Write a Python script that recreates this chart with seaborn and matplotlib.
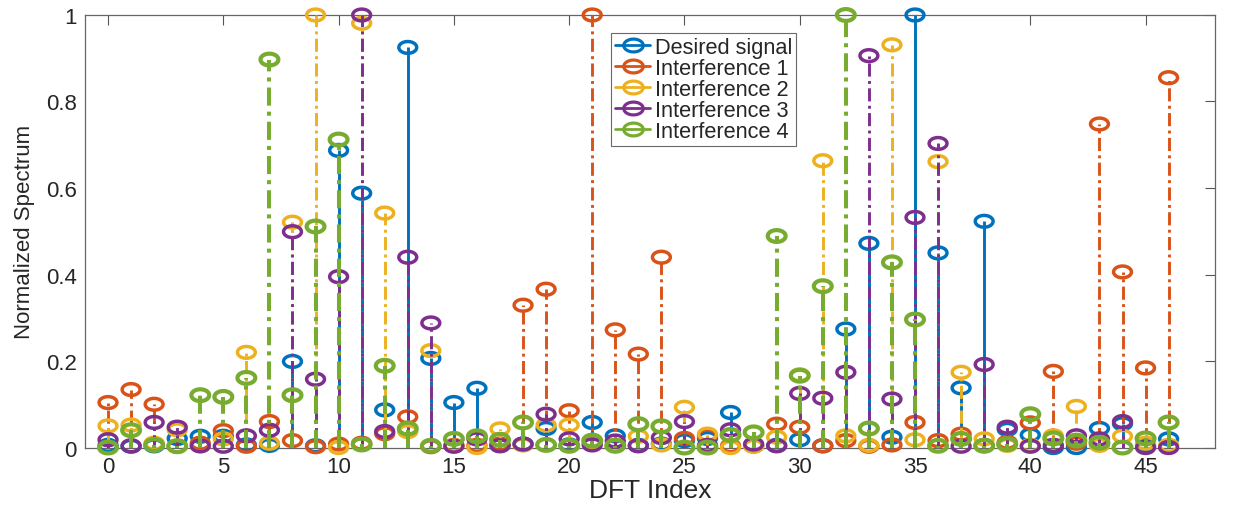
import numpy as np
import pandas as pd
import matplotlib
matplotlib.use("Agg")
import matplotlib.pyplot as plt
from matplotlib.path import Path
from matplotlib.lines import Line2D
import seaborn as sns

# Normalized DFT magnitude per bin for each source
dft_index = list(range(47))
desired = [0.005, 0.003, 0.004, 0.021, 0.026, 0.026, 0.006, 0.005, 0.199, 0.004,
           0.687, 0.588, 0.087, 0.925, 0.206, 0.104, 0.137, 0.005, 0.008, 0.044,
           0.006, 0.058, 0.027, 0.005, 0.008, 0.016, 0.021, 0.081, 0.004, 0.005,
           0.018, 0.004, 0.274, 0.472, 0.024, 1.000, 0.450, 0.138, 0.523, 0.042,
           0.029, 0.000, 0.000, 0.044, 0.055, 0.005, 0.020]
interf1 = [0.104, 0.134, 0.100, 0.003, 0.010, 0.039, 0.003, 0.060, 0.016, 0.002,
           0.008, 0.010, 0.032, 0.071, 0.002, 0.005, 0.005, 0.008, 0.329, 0.366,
           0.085, 1.000, 0.272, 0.216, 0.440, 0.021, 0.027, 0.004, 0.004, 0.054,
           0.047, 0.004, 0.016, 0.003, 0.006, 0.058, 0.016, 0.031, 0.005, 0.012,
           0.057, 0.176, 0.010, 0.748, 0.406, 0.184, 0.855]
interf2 = [0.050, 0.052, 0.010, 0.041, 0.004, 0.020, 0.220, 0.010, 0.521, 1.000,
           0.000, 0.981, 0.542, 0.037, 0.224, 0.004, 0.000, 0.043, 0.006, 0.052,
           0.052, 0.010, 0.005, 0.026, 0.006, 0.093, 0.031, 0.000, 0.003, 0.024,
           0.168, 0.663, 0.027, 0.005, 0.931, 0.018, 0.661, 0.174, 0.020, 0.005,
           0.005, 0.027, 0.095, 0.005, 0.026, 0.010, 0.005]
interf3 = [0.018, 0.004, 0.058, 0.047, 0.004, 0.003, 0.027, 0.040, 0.499, 0.158,
           0.395, 1.000, 0.037, 0.440, 0.288, 0.003, 0.020, 0.004, 0.008, 0.077,
           0.020, 0.006, 0.015, 0.004, 0.023, 0.060, 0.005, 0.041, 0.008, 0.004,
           0.125, 0.114, 0.174, 0.906, 0.112, 0.532, 0.703, 0.003, 0.192, 0.047,
           0.003, 0.005, 0.027, 0.020, 0.060, 0.000, 0.000]
interf4 = [0.000, 0.040, 0.006, 0.003, 0.121, 0.117, 0.161, 0.897, 0.121, 0.511,
           0.712, 0.007, 0.189, 0.044, 0.004, 0.020, 0.026, 0.018, 0.058, 0.006,
           0.004, 0.016, 0.004, 0.054, 0.049, 0.000, 0.000, 0.029, 0.035, 0.489,
           0.166, 0.373, 1.000, 0.044, 0.428, 0.296, 0.004, 0.020, 0.004, 0.008,
           0.077, 0.021, 0.016, 0.011, 0.000, 0.021, 0.058]

series_names = ["Desired signal", "Interference 1", "Interference 2",
                "Interference 3", "Interference 4"]
series_values = [desired, interf1, interf2, interf3, interf4]
colors = ["#0072BD", "#D95319", "#EDB120", "#7E2F8E", "#77AC30"]
dash_dot = (0, (4.5, 1.5, 1.0, 1.5))
line_styles = ["-", dash_dot, dash_dot, dash_dot, dash_dot]
line_widths = [2.1, 2.1, 2.1, 2.1, 2.9]
edge_widths = [2.5, 2.5, 2.5, 2.5, 3.0]

sns.set_theme(style="white")
plt.rcParams["font.family"] = ["Liberation Sans", "DejaVu Sans"]

# Open elliptical marker (wider than tall)
theta = np.linspace(0, 2 * np.pi, 64)
ellipse = Path(np.column_stack([np.cos(theta), 0.66 * np.sin(theta)]), closed=True)

fig = plt.figure(figsize=(12.37, 5.06), dpi=100)
ax = fig.add_axes([0.0687, 0.1136, 0.9133, 0.8548])

for i, (name, vals) in enumerate(zip(series_names, series_values)):
    df = pd.DataFrame({"idx": dft_index, "val": vals})
    ax.vlines(df["idx"], 0, df["val"], colors=colors[i], linestyles=line_styles[i],
              linewidth=line_widths[i], zorder=2 + 2 * i)
    sns.scatterplot(data=df, x="idx", y="val", ax=ax, marker=ellipse, s=165,
                    facecolors="none", edgecolor=colors[i], linewidth=edge_widths[i],
                    zorder=3 + 2 * i, clip_on=False, legend=False)

ax.set_xlim(-1, 48)
ax.set_ylim(0, 1)
ax.set_xticks(range(0, 46, 5))
ax.set_yticks([0, 0.2, 0.4, 0.6, 0.8, 1.0])
ax.set_yticklabels(["0", "0.2", "0.4", "0.6", "0.8", "1"])
ax.tick_params(direction="in", length=7, width=0.8, color="#555555",
               labelsize=16, labelcolor="#262626", top=True, right=True, pad=6)
for sp in ax.spines.values():
    sp.set_color("#666666")
    sp.set_linewidth(0.9)
ax.set_xlabel("DFT Index", fontsize=19, color="#262626", labelpad=1)
ax.set_ylabel("Normalized Spectrum", fontsize=16, color="#262626", labelpad=8)

handles = [Line2D([0, 1], [0, 0], color=c, lw=2, marker=ellipse, markersize=14,
                  markerfacecolor="none", markeredgewidth=2.3, markevery=[1])
           for c in colors]
leg = ax.legend(handles, series_names, loc="upper left",
                bbox_to_anchor=(0.466, 0.958), fontsize=15.7, frameon=True,
                fancybox=False, edgecolor="#444444", handlelength=1.6,
                handletextpad=0.2, labelspacing=0.0, borderpad=0.18,
                borderaxespad=0)
leg.get_frame().set_linewidth(0.8)

fig.savefig("out.png", dpi=100)
